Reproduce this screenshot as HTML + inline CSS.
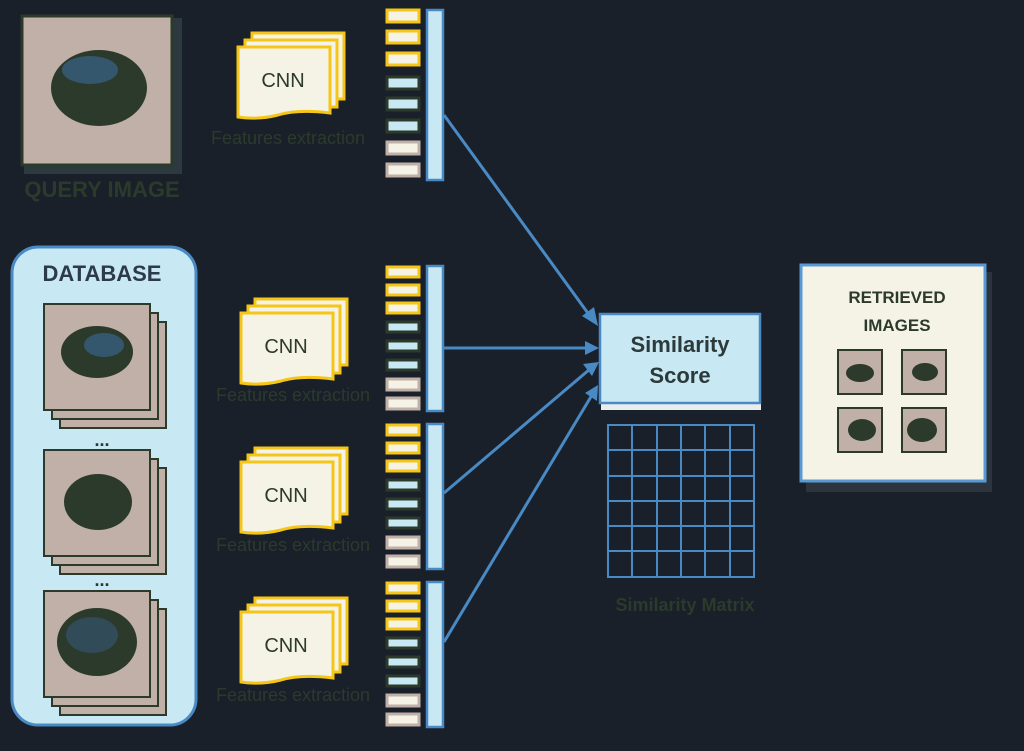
<!DOCTYPE html>
<html><head><style>
body{margin:0;background:#19202a;}
svg{display:block;font-family:"Liberation Sans",sans-serif;}
</style></head><body>
<svg width="1024" height="751" viewBox="0 0 1024 751" xmlns="http://www.w3.org/2000/svg">
<defs>
<g id="cnn">
  <path d="M14,-14 H106 V52 H14 Z" fill="#f5f3e6" stroke="#f5c518" stroke-width="3"/>
  <path d="M7,-7 H99 V60 H7 Z" fill="#f5f3e6" stroke="#f5c518" stroke-width="3"/>
  <path d="M0,0 H92 V66 Q60,62 40,68 Q20,73 0,70 Z" fill="#f5f3e6" stroke="#f5c518" stroke-width="3"/>
  <text x="45" y="40" font-size="20" fill="#2c3a2c" text-anchor="middle" font-family="Liberation Sans">CNN</text>
</g>
<g id="vec">
  <rect x="387" y="0" width="32" height="12" fill="#f5f3e6" stroke="#f5c518" stroke-width="3"/>
  <rect x="387" y="21" width="32" height="12" fill="#f5f3e6" stroke="#f5c518" stroke-width="3"/>
  <rect x="387" y="43" width="32" height="12" fill="#f5f3e6" stroke="#f5c518" stroke-width="3"/>
  <rect x="387" y="67" width="32" height="12" fill="#c8e8f4" stroke="#2c3a2c" stroke-width="3"/>
  <rect x="387" y="88" width="32" height="12" fill="#c8e8f4" stroke="#2c3a2c" stroke-width="3"/>
  <rect x="387" y="110" width="32" height="12" fill="#c8e8f4" stroke="#2c3a2c" stroke-width="3"/>
  <rect x="387" y="132" width="32" height="12" fill="#f5f3e6" stroke="#c0b0a8" stroke-width="3"/>
  <rect x="387" y="154" width="32" height="12" fill="#f5f3e6" stroke="#c0b0a8" stroke-width="3"/>
  <rect x="427" y="0" width="16" height="170" fill="#c8e8f4" stroke="#4a8ac4" stroke-width="2.5"/>
</g>
<g id="vec2">
  <rect x="387" y="1" width="32" height="10" fill="#f5f3e6" stroke="#f5c518" stroke-width="3"/>
  <rect x="387" y="19" width="32" height="10" fill="#f5f3e6" stroke="#f5c518" stroke-width="3"/>
  <rect x="387" y="37" width="32" height="10" fill="#f5f3e6" stroke="#f5c518" stroke-width="3"/>
  <rect x="387" y="56" width="32" height="10" fill="#c8e8f4" stroke="#2c3a2c" stroke-width="3"/>
  <rect x="387" y="75" width="32" height="10" fill="#c8e8f4" stroke="#2c3a2c" stroke-width="3"/>
  <rect x="387" y="94" width="32" height="10" fill="#c8e8f4" stroke="#2c3a2c" stroke-width="3"/>
  <rect x="387" y="113" width="32" height="11" fill="#f5f3e6" stroke="#c0b0a8" stroke-width="3"/>
  <rect x="387" y="132" width="32" height="11" fill="#f5f3e6" stroke="#c0b0a8" stroke-width="3"/>
  <rect x="427" y="0" width="16" height="145" fill="#c8e8f4" stroke="#4a8ac4" stroke-width="2.5"/>
</g>
<g id="stack">
  <rect x="16" y="18" width="106" height="106" fill="#c0b0a8" stroke="#2c3a2c" stroke-width="2"/>
  <rect x="8" y="9" width="106" height="106" fill="#c0b0a8" stroke="#2c3a2c" stroke-width="2"/>
  <rect x="0" y="0" width="106" height="106" fill="#c0b0a8" stroke="#2c3a2c" stroke-width="2"/>
</g>
</defs>

<!-- Query image -->
<rect x="24" y="18" width="158" height="156" fill="#2c3a3f"/>
<rect x="22" y="16" width="150" height="149" fill="#c0b0a8" stroke="#2c3a2c" stroke-width="3"/>
<ellipse cx="99" cy="88" rx="48" ry="38" fill="#2c3a2c"/>
<ellipse cx="90" cy="70" rx="28" ry="14" fill="#3a6a9a" opacity="0.6"/>
<text x="102" y="197" font-size="22" font-weight="bold" fill="#2c3a2c" text-anchor="middle">QUERY IMAGE</text>

<!-- CNN groups -->
<use href="#cnn" x="238" y="47"/>
<text x="288" y="144" font-size="18" fill="#2c3a2c" text-anchor="middle">Features extraction</text>
<use href="#cnn" x="241" y="313"/>
<text x="293" y="401" font-size="18" fill="#2c3a2c" text-anchor="middle">Features extraction</text>
<use href="#cnn" x="241" y="462"/>
<text x="293" y="551" font-size="18" fill="#2c3a2c" text-anchor="middle">Features extraction</text>
<use href="#cnn" x="241" y="612"/>
<text x="293" y="701" font-size="18" fill="#2c3a2c" text-anchor="middle">Features extraction</text>

<!-- vectors -->
<use href="#vec" x="0" y="10"/>
<use href="#vec2" x="0" y="266"/>
<use href="#vec2" x="0" y="424"/>
<use href="#vec2" x="0" y="582"/>

<!-- Database -->
<rect x="12" y="247" width="184" height="478" rx="26" fill="#c8e8f4" stroke="#4a8ac4" stroke-width="3"/>
<text x="102" y="281" font-size="22" font-weight="bold" fill="#2c3a4a" text-anchor="middle">DATABASE</text>
<use href="#stack" x="44" y="304"/>
<ellipse cx="97" cy="352" rx="36" ry="26" fill="#2c3a2c"/>
<ellipse cx="104" cy="345" rx="20" ry="12" fill="#3a6a9a" opacity="0.6"/>
<text x="102" y="446" font-size="18" font-weight="bold" fill="#2c3a2c" text-anchor="middle">...</text>
<use href="#stack" x="44" y="450"/>
<ellipse cx="98" cy="502" rx="34" ry="28" fill="#2c3a2c"/>
<text x="102" y="586" font-size="18" font-weight="bold" fill="#2c3a2c" text-anchor="middle">...</text>
<use href="#stack" x="44" y="591"/>
<ellipse cx="97" cy="642" rx="40" ry="34" fill="#2c3a2c"/>
<ellipse cx="92" cy="635" rx="26" ry="18" fill="#3a6a9a" opacity="0.4"/>

<!-- arrows -->
<g stroke="#4a8ac4" stroke-width="3" fill="#4a8ac4">
<line x1="444" y1="115" x2="590" y2="316"/>
<polygon points="598,326 582,316 594,307" stroke="none"/>
<line x1="444" y1="348" x2="588" y2="348"/>
<polygon points="599,348 585,341 585,355" stroke="none"/>
<line x1="444" y1="493" x2="590" y2="369"/>
<polygon points="599,362 583,364 592,376" stroke="none"/>
<line x1="444" y1="642" x2="592" y2="395"/>
<polygon points="598,385 585,393 597,401" stroke="none"/>
</g>

<!-- Similarity score -->
<rect x="601" y="395" width="160" height="15" fill="#e8ecec"/>
<rect x="600" y="314" width="160" height="89" fill="#c8e8f4" stroke="#4a8ac4" stroke-width="2.5"/>
<text x="680" y="352" font-size="22" font-weight="bold" fill="#2c3a3a" text-anchor="middle">Similarity</text>
<text x="680" y="383" font-size="22" font-weight="bold" fill="#2c3a3a" text-anchor="middle">Score</text>

<!-- grid -->
<g stroke="#4a8ac4" stroke-width="2" fill="none">
<rect x="608" y="425" width="146" height="152"/>
<line x1="632" y1="425" x2="632" y2="577"/><line x1="657" y1="425" x2="657" y2="577"/>
<line x1="681" y1="425" x2="681" y2="577"/><line x1="705" y1="425" x2="705" y2="577"/>
<line x1="730" y1="425" x2="730" y2="577"/>
<line x1="608" y1="450" x2="754" y2="450"/><line x1="608" y1="476" x2="754" y2="476"/>
<line x1="608" y1="501" x2="754" y2="501"/><line x1="608" y1="526" x2="754" y2="526"/>
<line x1="608" y1="551" x2="754" y2="551"/>
</g>
<text x="685" y="611" font-size="18" font-weight="bold" fill="#2c3a2c" text-anchor="middle">Similarity Matrix</text>

<!-- Retrieved -->
<rect x="806" y="272" width="186" height="220" fill="#2c353d"/>
<rect x="801" y="265" width="184" height="216" fill="#f5f3e6" stroke="#5a9ad4" stroke-width="3"/>
<text x="897" y="303" font-size="17" font-weight="bold" fill="#2c3a2c" text-anchor="middle">RETRIEVED</text>
<text x="897" y="331" font-size="17" font-weight="bold" fill="#2c3a2c" text-anchor="middle">IMAGES</text>
<g stroke="#2c3a2c" stroke-width="2" fill="#c0b0a8">
<rect x="838" y="350" width="44" height="44"/><rect x="902" y="350" width="44" height="44"/>
<rect x="838" y="408" width="44" height="44"/><rect x="902" y="408" width="44" height="44"/>
</g>
<g fill="#2c3a2c">
<ellipse cx="860" cy="373" rx="14" ry="9"/><ellipse cx="925" cy="372" rx="13" ry="9"/>
<ellipse cx="862" cy="430" rx="14" ry="11"/><ellipse cx="922" cy="430" rx="15" ry="12"/>
</g>
</svg>
</body></html>
